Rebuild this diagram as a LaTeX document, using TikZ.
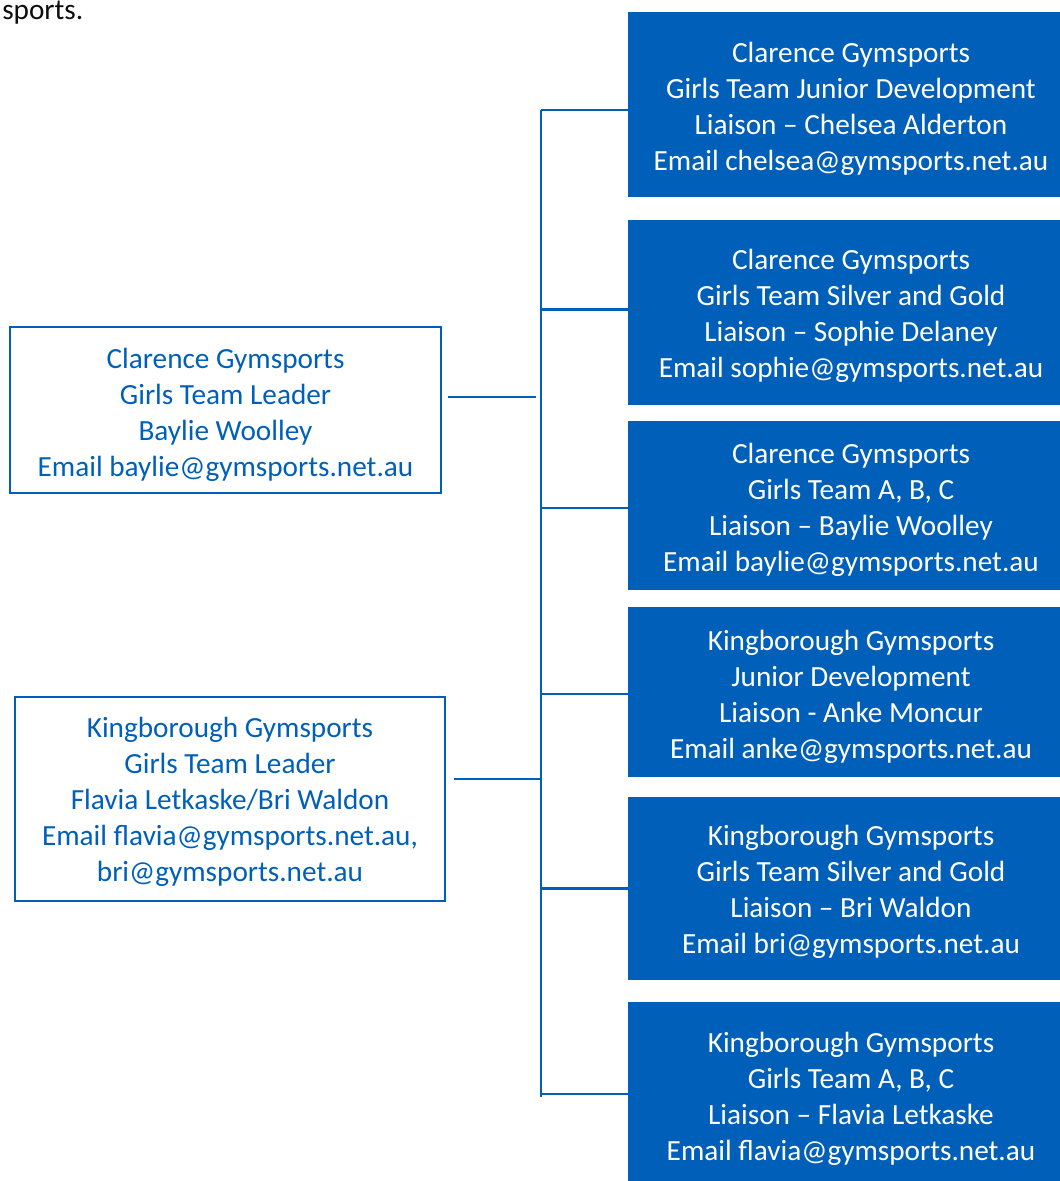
\documentclass[tikz,border=0pt]{standalone}
\usepackage{fontspec}
\setmainfont{Carlito}
\usepackage{tikz}
\usepackage{xcolor}
\definecolor{gsblue}{HTML}{0060B9}

\begin{document}
\begin{tikzpicture}[x=0.025cm,y=-0.025cm,font=\fontsize{20.8}{25.6}\selectfont,
  rbox/.style={fill=gsblue,inner sep=0pt,minimum width=11.15cm},
  lbox/.style={draw=gsblue,line width=1.9pt,inner sep=0pt},
  rtext/.style={text=white,align=center,inner sep=0pt,yshift=-0.11cm},
  ltext/.style={text=gsblue,align=center,inner sep=0pt,yshift=-0.11cm},
  link/.style={draw=gsblue,line width=1.9pt}]
\useasboundingbox (0,0) rectangle (1059,1181);
\node[anchor=base west,inner sep=0pt,text=black!95] (prev) at (2,20) {sports.};
\coordinate (spine) at (541,0);
\node[lbox,minimum width=10.775cm,minimum height=4.15cm] (l1) at (225.5,410) {};
\node[lbox,minimum width=10.75cm,minimum height=5.1cm] (l2) at (230,799) {};
\node[ltext] (l1t) at (l1) {Clarence Gymsports\\Girls Team Leader\\Baylie Woolley\\Email baylie@gymsports.net.au};
\node[ltext,yshift=0.035cm] (l2t) at (l2) {Kingborough Gymsports\\Girls Team Leader\\Flavia Letkaske/Bri Waldon\\Email flavia@gymsports.net.au,\\bri@gymsports.net.au};
\node[rbox,minimum height=4.625cm] (c1) at (851,104.5) {};
\node[rbox,minimum height=4.625cm] (c2) at (851,312.5) {};
\node[rbox,minimum height=4.225cm] (c3) at (851,505.5) {};
\node[rbox,minimum height=4.25cm] (k1) at (851,692) {};
\node[rbox,minimum height=4.575cm] (k2) at (851,888.5) {};
\node[rbox,minimum height=4.675cm] (k3) at (851,1095.5) {};
\node[rtext] (c1t) at (c1) {Clarence Gymsports\\Girls Team Junior Development\\Liaison -- Chelsea Alderton\\Email chelsea@gymsports.net.au};
\node[rtext,yshift=0.015cm] (c2t) at (c2) {Clarence Gymsports\\Girls Team Silver and Gold\\Liaison -- Sophie Delaney\\Email sophie@gymsports.net.au};
\node[rtext] (c3t) at (c3) {Clarence Gymsports\\Girls Team A, B, C\\Liaison -- Baylie Woolley\\Email baylie@gymsports.net.au};
\node[rtext] (k1t) at (k1) {Kingborough Gymsports\\Junior Development\\Liaison - Anke Moncur\\Email anke@gymsports.net.au};
\node[rtext,yshift=0.015cm] (k2t) at (k2) {Kingborough Gymsports\\Girls Team Silver and Gold\\Liaison -- Bri Waldon\\Email bri@gymsports.net.au};
\node[rtext,yshift=0.035cm] (k3t) at (k3) {Kingborough Gymsports\\Girls Team A, B, C\\Liaison -- Flavia Letkaske\\Email flavia@gymsports.net.au};
\draw[link] ([yshift=-0.14cm]c1.west -| spine) -- ([yshift=-0.04cm]k3.west -| spine);
\draw[link] ([yshift=-0.14cm]c1.west) -- ([yshift=-0.14cm]c1.west -| spine);
\draw[link] ([yshift=0.08cm]c2.west) -- ([yshift=0.08cm]c2.west -| spine);
\draw[link] ([yshift=-0.06cm]c3.west) -- ([yshift=-0.06cm]c3.west -| spine);
\draw[link] ([yshift=-0.05cm]k1.west) -- ([yshift=-0.05cm]k1.west -| spine);
\draw[link] (k2.west) -- (k2.west -| spine);
\draw[link] ([yshift=0.04cm]k3.west) -- ([yshift=0.04cm]k3.west -| spine);
\draw[link] ([xshift=0.15cm,yshift=0.325cm]l1.east) -- ([xshift=-0.125cm,yshift=0.325cm]l1.east -| spine);
\draw[link] ([xshift=0.2cm,yshift=0.5cm]l2.east) -- ([yshift=0.5cm]l2.east -| spine);
\end{tikzpicture}
\end{document}
